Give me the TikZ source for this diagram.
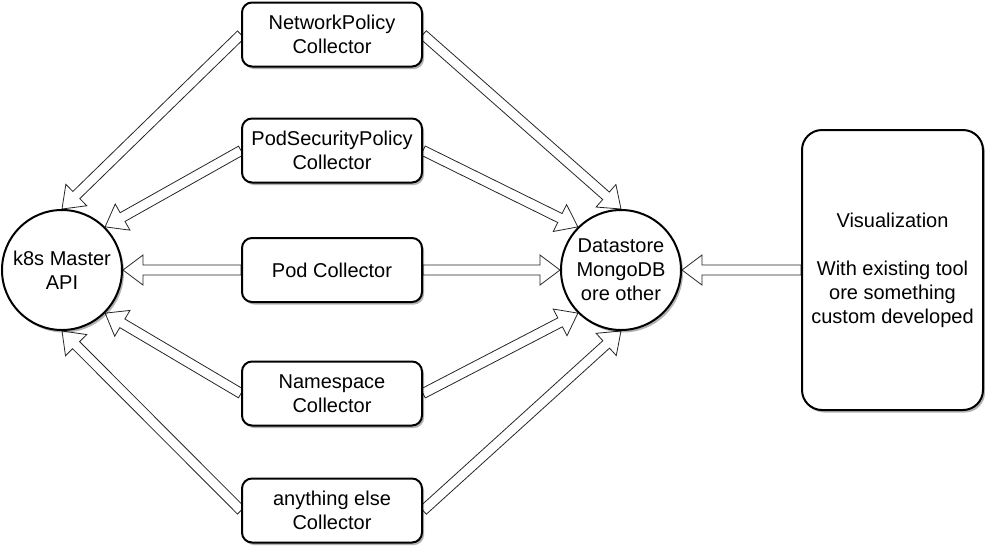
\documentclass[tikz,border=0pt]{standalone}
\usepackage{fontspec}
\setmainfont{Liberation Sans}
\usetikzlibrary{calc,backgrounds,shadows}
\newcommand\blockarrow[2]{%
  \path (#1) coordinate (ba-s) (#2) coordinate (ba-e);
  \coordinate (ba-b) at ($(ba-e)!20pt!(ba-s)$);
  \draw[flexarrow] ($(ba-s)!5pt!90:(ba-e)$) -- ($(ba-b)!5pt!-90:(ba-s)$) -- ($(ba-b)!15pt!-90:(ba-s)$) -- (ba-e) -- ($(ba-b)!15pt!90:(ba-s)$) -- ($(ba-b)!5pt!90:(ba-s)$) -- ($(ba-s)!5pt!-90:(ba-e)$) -- cycle;%
}
\begin{document}
\begin{tikzpicture}[x=1pt,y=-1pt,
  every node/.style={font=\fontsize{20}{24}\selectfont, align=center},
  shade/.style={drop shadow={shadow xshift=2pt, shadow yshift=-2.5pt, opacity=0.3, fill=black}},
  roundnode/.style={circle, draw, line width=2pt, fill=white, minimum size=120pt, inner sep=0pt, shade},
  collector/.style={rectangle, draw, line width=2pt, fill=white, rounded corners=10pt, minimum width=180pt, minimum height=64pt, inner sep=2pt, shade},
  vizbox/.style={rectangle, draw, line width=2pt, fill=white, rounded corners=20pt, minimum width=181pt, minimum height=280pt, inner sep=2pt, shade},
  flexarrow/.style={draw=black!85, line width=0.8pt, fill=white, line join=miter}]
\useasboundingbox (0,0) rectangle (985,547);
\node[roundnode] (k8s) at (62,270) {k8s Master\\API};
\node[roundnode] (ds) at (621,270) {Datastore\\MongoDB\\ore other};
\node[collector] (np) at (332,34.5) {NetworkPolicy\\Collector};
\node[collector] (psp) at (332,150.5) {PodSecurityPolicy\\Collector};
\node[collector] (pod) at (332,270) {Pod Collector};
\node[collector] (ns) at (332,393.5) {Namespace\\Collector};
\node[collector] (any) at (332,510.5) {anything else\\Collector};
\node[vizbox] (viz) at (892.5,270) {Visualization\\[24pt]With existing tool\\ore something\\custom developed};
\begin{scope}[on background layer]
  \blockarrow{np.west}{k8s.north}
  \blockarrow{psp.west}{k8s.45}
  \blockarrow{pod.west}{k8s.east}
  \blockarrow{ns.west}{k8s.-45}
  \blockarrow{any.west}{k8s.south}
  \blockarrow{np.east}{ds.north}
  \blockarrow{psp.east}{ds.135}
  \blockarrow{pod.east}{ds.west}
  \blockarrow{ns.east}{ds.-135}
  \blockarrow{any.east}{ds.south}
  \blockarrow{viz.west}{ds.east}
\end{scope}
\end{tikzpicture}
\end{document}
